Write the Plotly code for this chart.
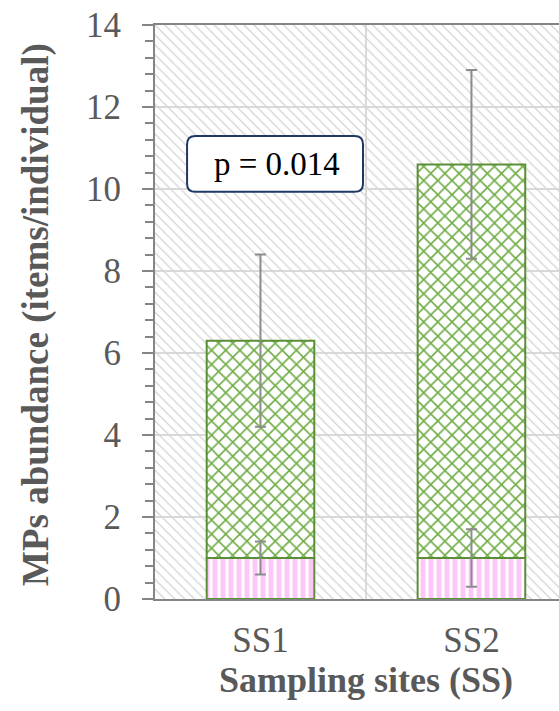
import plotly.graph_objects as go

# ---- data ----
sites = ["SS1", "SS2"]
bottom_vals = [1.0, 1.0]
bottom_err = [0.4, 0.7]
total_vals = [6.3, 10.6]
total_err = [2.1, 2.3]
y_ticks = [0, 2, 4, 6, 8, 10, 12, 14]
p_text = "p = 0.014"

x_pos = list(range(len(sites)))
top_vals = [t - b for t, b in zip(total_vals, bottom_vals)]

x_range = [-0.5, 1.415]
y_range = [0, 14]

GRID = "#d9d9d9"
AXIS = "#858585"
TXT = "#595959"
FONT = "Liberation Serif"

fig = go.Figure()

# background diagonal hatch of plot area
fig.add_trace(go.Bar(
    x=[(x_range[0] + x_range[1]) / 2], y=[y_range[1]], base=[0],
    width=[x_range[1] - x_range[0]],
    marker=dict(color="rgba(0,0,0,0)", line=dict(width=0),
                pattern=dict(shape="\\", fgcolor="#d4d4d4", bgcolor="rgba(0,0,0,0)",
                             size=7, solidity=0.18, fillmode="replace")),
    hoverinfo="skip", showlegend=False,
))

err_style = dict(type="data", color="#8c8c8c", thickness=2, width=5.5)

# upper (green cross-hatch) segment
fig.add_trace(go.Bar(
    x=x_pos, y=top_vals, base=bottom_vals, width=0.51,
    marker=dict(color="white", line=dict(color="#5b8f35", width=2),
                pattern=dict(shape="x", fgcolor="#70ad47", bgcolor="white",
                             size=10, solidity=0.3, fillmode="replace")),
    error_y=dict(array=total_err, **err_style),
    showlegend=False,
))

# lower (pink stripes) segment
fig.add_trace(go.Bar(
    x=x_pos, y=bottom_vals, base=[0] * len(x_pos), width=0.51,
    marker=dict(color="white", line=dict(color="#5b8f35", width=2),
                pattern=dict(shape="|", fgcolor="#ffc4fa", bgcolor="white",
                             size=8, solidity=0.6, fillmode="replace")),
    error_y=dict(array=bottom_err, **err_style),
    showlegend=False,
))

fig.update_layout(
    width=559, height=711,
    margin=dict(l=155, r=0, t=25, b=112),
    paper_bgcolor="white", plot_bgcolor="white",
    barmode="overlay",
    font=dict(family=FONT, color=TXT, size=35),
    xaxis=dict(
        range=x_range, tickvals=x_pos, ticktext=sites,
        showgrid=False, zeroline=False,
        showline=True, linecolor=AXIS, linewidth=2, mirror=True,
        ticks="", ticklabelstandoff=9,
        tickfont=dict(size=35, color=TXT, family=FONT),
        minor=dict(tickvals=[0.5, 1.5], showgrid=True, gridcolor=GRID, gridwidth=2, ticks=""),
    ),
    yaxis=dict(
        range=y_range, tickvals=y_ticks,
        showgrid=True, gridcolor=GRID, gridwidth=2, zeroline=False,
        showline=True, linecolor=AXIS, linewidth=2,
        ticks="outside", ticklen=11, tickwidth=2, tickcolor=AXIS,
        ticklabelstandoff=14,
        tickfont=dict(size=35, color=TXT, family=FONT),
        minor=dict(dtick=0.4, ticks="outside", ticklen=8, tickwidth=2, tickcolor=AXIS, showgrid=False),
    ),
)

# axis titles
fig.add_annotation(x=0, y=0.5, xref="paper", yref="paper", xanchor="center", yanchor="middle",
                   xshift=-119, yshift=-3, textangle=-90, showarrow=False,
                   text="<b>MPs abundance (items/individual)</b>",
                   font=dict(family=FONT, size=37, color=TXT))
fig.add_annotation(x=0.5, y=0, xref="x", yref="paper", xanchor="center", yanchor="middle",
                   yshift=-81, showarrow=False,
                   text="<b>Sampling sites (SS)</b>",
                   font=dict(family=FONT, size=36, color=TXT))

# rounded p-value box
bx0, bx1, by0, by1 = -0.348, 0.486, 9.93, 11.29
rx, ry = 0.04, 0.2
path = (f"M {bx0+rx},{by0} L {bx1-rx},{by0} Q {bx1},{by0} {bx1},{by0+ry} "
        f"L {bx1},{by1-ry} Q {bx1},{by1} {bx1-rx},{by1} L {bx0+rx},{by1} "
        f"Q {bx0},{by1} {bx0},{by1-ry} L {bx0},{by0+ry} Q {bx0},{by0} {bx0+rx},{by0} Z")
fig.add_shape(type="path", path=path, xref="x", yref="y",
              line=dict(color="#203864", width=2), fillcolor="white", layer="above")
fig.add_annotation(x=(bx0 + bx1) / 2 + 0.01, y=(by0 + by1) / 2, xref="x", yref="y",
                   text=p_text, showarrow=False,
                   font=dict(family=FONT, size=33, color="black"))

fig.write_html("out.html")
